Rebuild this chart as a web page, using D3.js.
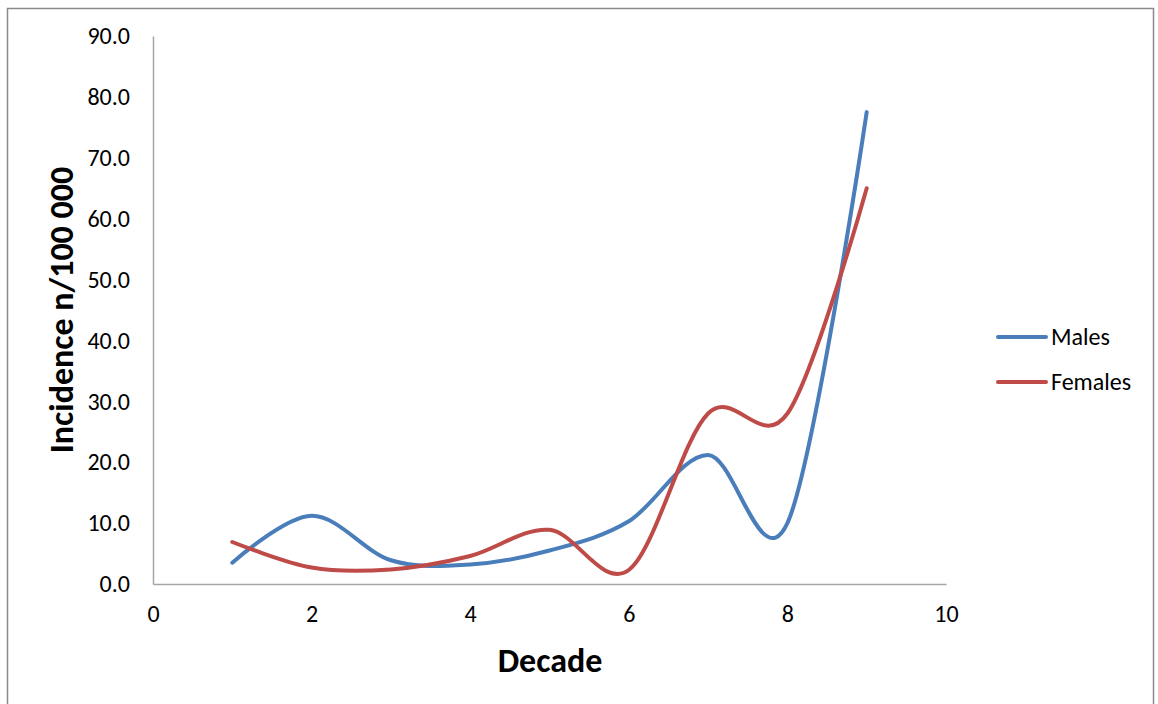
<!DOCTYPE html>
<html>
<head>
<meta charset="utf-8">
<script src="https://cdn.jsdelivr.net/npm/d3@7"></script>
<style>
  html, body { margin: 0; padding: 0; background: #fff; }
  svg { display: block; }
  text { font-family: Carlito, Lato, "Open Sans", sans-serif; fill: #000; }
</style>
</head>
<body>
<svg id="chart" width="1158" height="704"></svg>
<script>
// Incidence per 100 000 by decade of age
const decades = [1, 2, 3, 4, 5, 6, 7, 8, 9];
const males   = [3.5, 11.2, 3.9, 3.2, 5.5, 10.3, 21.2, 10.0, 77.5];
const females = [6.9, 2.7, 2.4, 4.6, 8.9, 2.3, 28.0, 28.0, 65.0];
const seriesNames = ["Males", "Females"];
const seriesColors = ["#4A7EBB", "#BE4B48"];
const xTicks = [0, 2, 4, 6, 8, 10];
const yTicks = [0, 10, 20, 30, 40, 50, 60, 70, 80, 90];

const svg = d3.select("#chart");

// outer chart frame
svg.append("rect")
  .attr("x", 7.5).attr("y", 8.5)
  .attr("width", 1146).attr("height", 710)
  .attr("fill", "none").attr("stroke", "#8a8a8a").attr("stroke-width", 1.5);

const x = d3.scaleLinear().domain([0, 10]).range([153, 946]);
const y = d3.scaleLinear().domain([0, 90]).range([584, 36]);

// axes: plain lines, no tick marks
const xAxis = svg.append("g").attr("transform", `translate(0,${y(0)})`)
  .call(d3.axisBottom(x).tickValues(xTicks).tickSize(0).tickPadding(21).tickFormat(d3.format("d")));
const yAxis = svg.append("g").attr("transform", `translate(${x(0)},0)`)
  .call(d3.axisLeft(y).tickValues(yTicks).tickSize(0).tickPadding(23).tickFormat(d3.format(".1f")));

[xAxis, yAxis].forEach(g => {
  g.select(".domain").attr("stroke", "#a6a6a6").attr("stroke-width", 1.5);
  g.selectAll("text").attr("font-family", "Carlito, Lato, 'Open Sans', sans-serif")
    .attr("font-size", 24).attr("fill", "#000");
});

// smoothed series lines
const line = d3.line()
  .x((d, i) => x(decades[i]))
  .y(d => y(d))
  .curve(d3.curveCatmullRom.alpha(0));

[males, females].forEach((vals, k) => {
  svg.append("path")
    .datum(vals)
    .attr("d", line)
    .attr("fill", "none")
    .attr("stroke", seriesColors[k])
    .attr("stroke-width", 4)
    .attr("stroke-linecap", "round")
    .attr("stroke-linejoin", "round");
});

// axis titles
svg.append("text")
  .attr("x", 550).attr("y", 672)
  .attr("text-anchor", "middle")
  .attr("font-size", 34).attr("font-weight", "bold")
  .text("Decade");

svg.append("text")
  .attr("transform", "translate(73,310) rotate(-90)")
  .attr("text-anchor", "middle")
  .attr("font-size", 34).attr("font-weight", "bold")
  .text("Incidence n/100 000");

// legend
const legend = svg.append("g");
seriesNames.forEach((name, k) => {
  const ly = 337 + k * 45;
  legend.append("line")
    .attr("x1", 998).attr("x2", 1046)
    .attr("y1", ly).attr("y2", ly)
    .attr("stroke", seriesColors[k]).attr("stroke-width", 4)
    .attr("stroke-linecap", "round");
  legend.append("text")
    .attr("x", 1051).attr("y", ly + 8)
    .attr("font-size", 24)
    .text(name);
});
</script>
</body>
</html>
